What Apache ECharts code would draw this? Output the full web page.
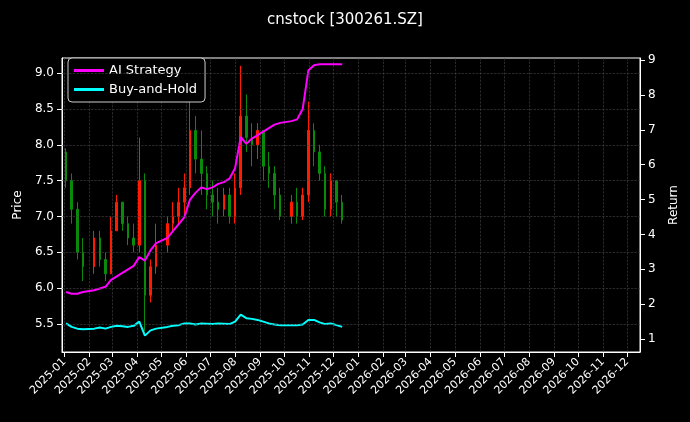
<!DOCTYPE html><html><head><meta charset="utf-8">
<script src="https://cdn.jsdelivr.net/npm/echarts@6/dist/echarts.min.js"></script>
<style>html,body{margin:0;background:#000}#c{width:690px;height:422px}</style></head><body><div id="c"></div><script>
const dates=['2025-01-03','2025-01-10','2025-01-17','2025-01-24','2025-02-07','2025-02-14','2025-02-21','2025-02-28','2025-03-07','2025-03-14','2025-03-21','2025-03-28','2025-04-04','2025-04-11','2025-04-18','2025-04-25','2025-05-09','2025-05-16','2025-05-23','2025-05-30','2025-06-06','2025-06-13','2025-06-20','2025-06-27','2025-07-04','2025-07-11','2025-07-18','2025-07-25','2025-08-01','2025-08-08','2025-08-15','2025-08-22','2025-08-29','2025-09-05','2025-09-12','2025-09-19','2025-09-26','2025-10-10','2025-10-17','2025-10-24','2025-10-31','2025-11-07','2025-11-14','2025-11-21','2025-11-28','2025-12-05','2025-12-12'];
const ohlc=[[7.9,7.5,7.4,7.95],[7.5,7.1,6.9,7.6],[7.1,6.5,6.4,7.2],[6.5,6.3,6.1,6.7],[6.3,6.7,6.2,6.8],[6.7,6.4,6.3,6.8],[6.4,6.2,6.1,6.5],[6.2,6.8,6.2,7.0],[6.8,7.2,6.8,7.3],[7.2,6.9,6.8,7.2],[6.9,6.7,6.6,7.0],[6.7,6.6,6.5,6.9],[6.6,7.5,6.5,8.1],[7.5,5.9,5.4,7.6],[5.9,6.3,5.8,6.4],[6.3,6.6,6.2,6.9],[6.6,6.9,6.5,7.0],[6.9,7.0,6.8,7.2],[7.0,7.2,6.9,7.4],[7.2,7.4,7.0,7.6],[7.4,8.2,7.3,8.6],[8.2,7.8,7.6,8.4],[7.8,7.6,7.3,8.2],[7.6,7.3,7.1,7.7],[7.3,7.2,7.0,7.5],[7.2,7.1,6.9,7.4],[7.1,7.3,7.0,7.4],[7.3,7.0,6.9,7.4],[7.0,7.4,6.9,7.6],[7.4,8.4,7.3,9.1],[8.4,8.1,7.9,8.7],[8.1,8.0,7.7,8.3],[8.0,8.2,7.8,8.3],[8.2,7.7,7.5,8.2],[7.7,7.6,7.4,7.9],[7.6,7.3,7.1,7.7],[7.3,7.0,6.95,7.4],[7.0,7.2,6.9,7.3],[7.2,7.0,6.9,7.4],[7.0,7.3,6.95,7.4],[7.3,8.2,7.2,8.6],[8.2,7.9,7.7,8.3],[7.9,7.6,7.5,8.0],[7.6,7.1,7.0,7.7],[7.1,7.5,7.0,7.6],[7.5,7.2,7.0,7.5],[7.2,6.95,6.9,7.3]];
const aiRet=[2.35,2.3,2.3,2.35,2.4,2.45,2.5,2.7,2.8,2.9,3.0,3.1,3.35,3.25,3.55,3.75,3.9,4.1,4.3,4.5,5.0,5.2,5.35,5.3,5.35,5.45,5.5,5.6,5.9,6.8,6.6,6.75,6.85,6.95,7.05,7.15,7.2,7.25,7.3,7.6,8.7,8.85,8.88,8.88,8.88,8.88,8.88];
const bhRet=[1.45,1.35,1.3,1.28,1.3,1.33,1.3,1.35,1.38,1.37,1.35,1.38,1.5,1.1,1.25,1.3,1.35,1.38,1.4,1.45,1.45,1.42,1.45,1.44,1.43,1.45,1.44,1.43,1.5,1.7,1.6,1.58,1.55,1.5,1.45,1.42,1.4,1.4,1.4,1.42,1.55,1.55,1.48,1.43,1.45,1.4,1.35];
const priceTicks=[5.5,6.0,6.5,7.0,7.5,8.0,8.5,9.0];
const retTicks=[1,2,3,4,5,6,7,8,9];
const fmt=v=>v.toFixed(1);
const chart=echarts.init(document.getElementById('c'));
const tc='#fff', gl={color:'#444',type:'dashed',width:0.6};
chart.setOption({
 backgroundColor:'#000',animation:false,
 textStyle:{fontFamily:'DejaVu Sans'},
 title:{text:'cnstock [300261.SZ]',left:'center',top:8,textStyle:{color:tc,fontSize:15,fontWeight:'normal',fontFamily:'DejaVu Sans'}},
 legend:{orient:'vertical',left:68,top:58,padding:[6,8,6,6],itemGap:6,backgroundColor:'#000',borderColor:'#ccc',borderWidth:1,borderRadius:4,itemWidth:30,itemHeight:3,icon:'rect',textStyle:{color:tc,fontSize:13},data:['AI Strategy','Buy-and-Hold']},
 grid:{left:62,right:50,top:58,bottom:70,show:true,borderColor:'#fff',borderWidth:1},
 xAxis:{type:'time',min:'2024-12-29',max:'2026-12-17',minInterval:28*864e5,maxInterval:31*864e5,
  axisLine:{lineStyle:{color:tc}},axisTick:{lineStyle:{color:tc}},
  axisLabel:{color:tc,rotate:45,fontSize:11,formatter:'{yyyy}-{MM}',showMinLabel:false,showMaxLabel:false,hideOverlap:false},
  splitLine:{show:true,lineStyle:gl}},
 yAxis:[{type:'value',min:5.11,max:9.21,name:'Price',nameLocation:'middle',nameGap:38,nameTextStyle:{color:tc,fontSize:12},
   axisLine:{show:true,lineStyle:{color:tc}},axisTick:{show:true,customValues:priceTicks,lineStyle:{color:tc}},
   axisLabel:{color:tc,fontSize:12,customValues:priceTicks,formatter:fmt},splitLine:{show:false}},
  {type:'value',min:0.63,max:9.06,name:'Return',nameLocation:'middle',nameGap:28,nameRotate:90,nameTextStyle:{color:tc,fontSize:12},
   axisLine:{show:true,lineStyle:{color:tc}},axisTick:{show:true,customValues:retTicks,lineStyle:{color:tc}},
   axisLabel:{color:tc,fontSize:12,customValues:retTicks},splitLine:{show:false}}],
 series:[
  {type:'candlestick',name:'Price',yAxisIndex:0,barWidth:2,
   data:dates.map((d,i)=>[d,...ohlc[i]]),
   itemStyle:{color:'#ff1a00',color0:'#0a8a0a',borderColor:'#ff1a00',borderColor0:'#0a8a0a',borderWidth:1},
   markLine:{silent:true,symbol:'none',label:{show:false},lineStyle:gl,data:priceTicks.map(v=>({yAxis:v}))}},
  {type:'line',name:'AI Strategy',yAxisIndex:1,showSymbol:false,color:'#ff00ff',lineStyle:{width:2,color:'#ff00ff'},data:dates.map((d,i)=>[d,aiRet[i]])},
  {type:'line',name:'Buy-and-Hold',yAxisIndex:1,showSymbol:false,color:'#00ffff',lineStyle:{width:2,color:'#00ffff'},data:dates.map((d,i)=>[d,bhRet[i]])}
 ]});
</script></body></html>
